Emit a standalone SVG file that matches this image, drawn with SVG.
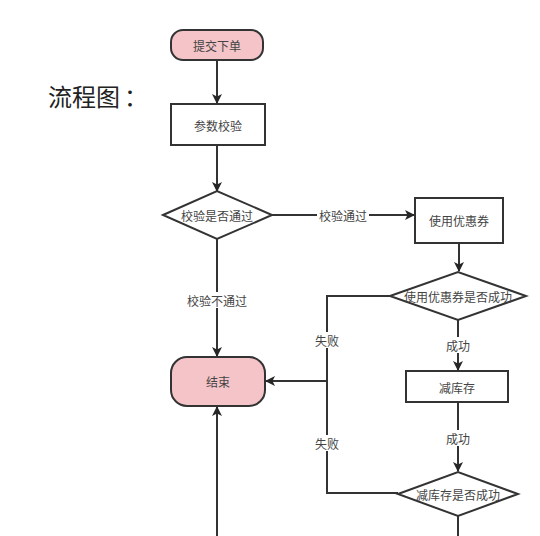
<svg xmlns="http://www.w3.org/2000/svg" width="540" height="536" viewBox="0 0 540 536">
<defs>
<marker id="ah" markerWidth="10" markerHeight="10" refX="9" refY="5" orient="auto" markerUnits="userSpaceOnUse">
<path d="M0,0 L10,5 L0,10 L2.5,5 Z" fill="#262626"/>
</marker>
<style>
text{font-family:"Noto Sans CJK SC","Noto Sans",sans-serif;fill:#444;}
.n{font-size:12px;text-anchor:middle;dominant-baseline:central;}
.term{fill:#f4c4c8;stroke:#333;stroke-width:2;}
.box{fill:#fff;stroke:#333;stroke-width:2;}
.c{fill:none;stroke:#333;stroke-width:2;}
.lbl{font-size:12px;text-anchor:middle;dominant-baseline:central;}
.bg{fill:#fff;}
</style>
</defs>
<rect width="540" height="536" fill="#fff"/>
<text x="48" y="106" font-size="24" style="fill:#222">流程图<tspan dx="4">：</tspan></text>

<g id="connectors">
<path class="c" d="M217,60 V103" marker-end="url(#ah)"/>
<path class="c" d="M217,145 V191"  marker-end="url(#ah)"/>
<path class="c" d="M272,215 H414" marker-end="url(#ah)"/>
<path class="c" d="M217,239 V356" marker-end="url(#ah)"/>
<path class="c" d="M459,243 V271" marker-end="url(#ah)"/>
<path class="c" d="M390,296 H327 V493 H398"/>
<path class="c" d="M327,381 H266" marker-end="url(#ah)"/>
<path class="c" d="M458,320 V370" marker-end="url(#ah)"/>
<path class="c" d="M458,402 V471" marker-end="url(#ah)"/>
<path class="c" d="M458,516 V536"/>
<path class="c" d="M217,536 V407" marker-end="url(#ah)"/>
<rect class="bg" x="317" y="207" width="52" height="16"/>
<text class="lbl" x="343" y="215">校验通过</text>
<rect class="bg" x="185" y="292" width="64" height="16"/>
<text class="lbl" x="217" y="300">校验不通过</text>
<rect class="bg" x="313" y="332" width="28" height="16"/>
<text class="lbl" x="327" y="340">失败</text>
<rect class="bg" x="313" y="435" width="28" height="16"/>
<text class="lbl" x="327" y="443">失败</text>
<rect class="bg" x="444" y="337" width="28" height="16"/>
<text class="lbl" x="458" y="345">成功</text>
<rect class="bg" x="444" y="430" width="28" height="16"/>
<text class="lbl" x="458" y="438">成功</text>
</g>

<g id="start">
<rect class="term" x="171" y="30" width="92" height="30" rx="12"/>
<text class="n" x="217" y="45">提交下单</text>
</g>
<g id="validate">
<rect class="box" x="171" y="104" width="94" height="41"/>
<text class="n" x="218" y="125">参数校验</text>
</g>
<g id="check">
<polygon class="box" points="163,215 217,191 272,215 217,239"/>
<text class="n" x="217" y="215">校验是否通过</text>
</g>
<g id="coupon">
<rect class="box" x="415" y="198" width="88" height="45"/>
<text class="n" x="459" y="220">使用优惠券</text>
</g>
<g id="couponCheck">
<polygon class="box" points="390,296 458,272 526,296 458,320"/>
<text class="n" x="458" y="296">使用优惠券是否成功</text>
</g>
<g id="end">
<rect class="term" x="171" y="357" width="94" height="49" rx="16"/>
<text class="n" x="218" y="381">结束</text>
</g>
<g id="stock">
<rect class="box" x="406" y="371" width="102" height="31"/>
<text class="n" x="457" y="387">减库存</text>
</g>
<g id="stockCheck">
<polygon class="box" points="398,494 458,472 518,494 458,516"/>
<text class="n" x="458" y="494">减库存是否成功</text>
</g>
</svg>
